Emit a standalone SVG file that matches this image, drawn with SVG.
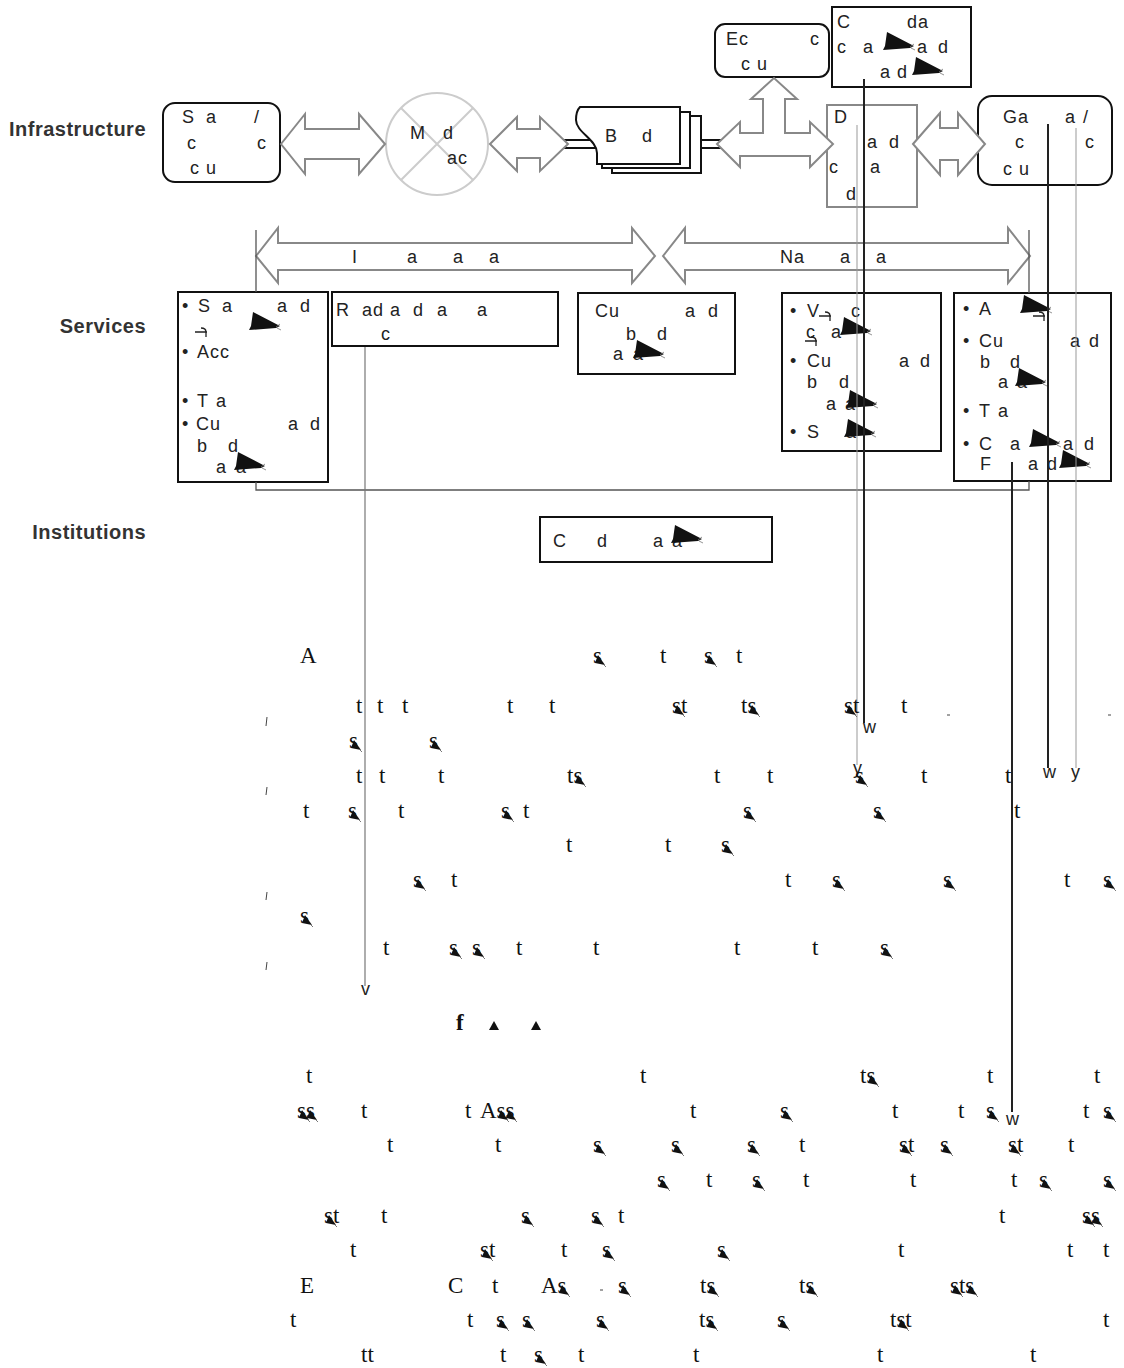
<svg xmlns="http://www.w3.org/2000/svg" xmlns:xlink="http://www.w3.org/1999/xlink" width="1124" height="1368" viewBox="0 0 1124 1368">
<style>
.t{font-family:"Liberation Sans",Arial,sans-serif;font-size:18px;letter-spacing:1px;fill:#222}
.lbl{font-family:"Liberation Sans",Arial,sans-serif;font-size:20px;letter-spacing:0.5px;font-weight:bold;fill:#333;text-anchor:end}
.b{font-family:"Liberation Serif","Times New Roman",serif;font-size:23px;fill:#111}
.bx{fill:#fff;stroke:#111;stroke-width:2}
.ga{fill:#fff;stroke:#888;stroke-width:2;stroke-linejoin:miter}
.dk{fill:none;stroke:#222;stroke-width:2}
.lt{fill:none;stroke:#999;stroke-width:1}
.md{fill:none;stroke:#555;stroke-width:1.3}
</style>
<defs>
<symbol id="wg" viewBox="0 0 32 18" width="32" height="18" overflow="visible"><polygon points="4,0 31,14 27,16 0,18 2,14" fill="#111"/><path d="M27,15 l4,-3 M28,16 l4,2" stroke="#777" stroke-width="0.8"/></symbol>
<symbol id="bl" viewBox="0 0 12 12" width="12" height="12" overflow="visible"><polygon points="1,9 4,1 11,11" fill="#111"/><path d="M10,11 l2,2" stroke="#555" stroke-width="0.8"/></symbol>
<symbol id="mk" viewBox="0 0 14 10" width="14" height="10" overflow="visible"><path d="M0,4 H12 M6,0 q5,0 5,4 v5" fill="none" stroke="#222" stroke-width="1.3"/></symbol>
</defs>
<rect width="1124" height="1368" fill="#fff"/>

<g id="labels">
<text class="lbl" x="146" y="136">Infrastructure</text>
<text class="lbl" x="146" y="333">Services</text>
<text class="lbl" x="146" y="539">Institutions</text>
</g>

<g id="n-sa">
<rect class="bx" x="163" y="103" width="117" height="79" rx="12"/>
<text class="t"><tspan x="182" y="123">S</tspan><tspan x="206" y="123">a</tspan><tspan x="254" y="123">/</tspan><tspan x="187" y="149">c</tspan><tspan x="257" y="149">c</tspan><tspan x="190" y="174">c u</tspan></text>
</g>

<g id="n-md">
<circle cx="437" cy="144" r="51" fill="#fff" stroke="#ccc" stroke-width="2"/>
<path d="M401,108 L473,180 M473,108 L401,180" stroke="#ccc" stroke-width="2"/>
<text class="t"><tspan x="410" y="139">M</tspan><tspan x="443" y="139">d</tspan><tspan x="447" y="164">ac</tspan></text>
</g>

<g id="n-bd">
<path d="M558,140 H600 M558,148 H600 M690,140 H722 M690,148 H722" stroke="#111" stroke-width="2"/>
<rect class="bx" x="612" y="116" width="89" height="57"/>
<rect class="bx" x="602" y="112" width="88" height="56"/>
<path class="bx" d="M580,107 H680 V164 H597 V153 C597,140 576,132 576,120 C576,113 578,109 580,107 Z"/>
<text class="t"><tspan x="605" y="142">B</tspan><tspan x="642" y="142">d</tspan></text>
</g>

<g id="n-ec">
<rect class="bx" x="715" y="24" width="114" height="53" rx="10"/>
<text class="t"><tspan x="726" y="45">Ec</tspan><tspan x="810" y="45">c</tspan><tspan x="741" y="70">c u</tspan></text>
</g>

<g id="n-cda">
<rect class="bx" x="832" y="7" width="139" height="80"/>
<text class="t"><tspan x="837" y="28">C</tspan><tspan x="907" y="28">da</tspan><tspan x="837" y="53">c</tspan><tspan x="863" y="53">a</tspan><tspan x="917" y="53">a</tspan><tspan x="938" y="53">d</tspan><tspan x="880" y="78">a</tspan><tspan x="897" y="78">d</tspan></text>
<use href="#wg" x="883" y="32"/>
<use href="#wg" x="912" y="57"/>
</g>

<g id="n-d">
<rect x="827" y="105" width="90" height="102" fill="#fff" stroke="#888" stroke-width="2"/>
<text class="t"><tspan x="834" y="123">D</tspan><tspan x="867" y="148">a</tspan><tspan x="889" y="148">d</tspan><tspan x="829" y="173">c</tspan><tspan x="870" y="173">a</tspan><tspan x="846" y="200">d</tspan></text>
</g>

<g id="n-ga">
<rect class="bx" x="978" y="96" width="134" height="89" rx="14"/>
<text class="t"><tspan x="1003" y="123">Ga</tspan><tspan x="1065" y="123">a</tspan><tspan x="1083" y="123">/</tspan><tspan x="1015" y="148">c</tspan><tspan x="1085" y="148">c</tspan><tspan x="1003" y="175">c u</tspan></text>
</g>

<g id="n-left">
<rect class="bx" x="178" y="292" width="150" height="190"/>
<text class="t"><tspan x="182" y="312">•</tspan><tspan x="198" y="312">S</tspan><tspan x="222" y="312">a</tspan><tspan x="277" y="312">a</tspan><tspan x="300" y="312">d</tspan>
<tspan x="182" y="358">•</tspan><tspan x="197" y="358">Acc</tspan>
<tspan x="182" y="407">•</tspan><tspan x="197" y="407">T</tspan><tspan x="216" y="407">a</tspan>
<tspan x="182" y="430">•</tspan><tspan x="196" y="430">Cu</tspan><tspan x="288" y="430">a</tspan><tspan x="310" y="430">d</tspan>
<tspan x="197" y="452">b</tspan><tspan x="228" y="452">d</tspan><tspan x="216" y="473">a</tspan><tspan x="236" y="473">a</tspan></text>
<use href="#wg" x="249" y="312"/>
<use href="#mk" x="195" y="328"/>
<use href="#wg" x="234" y="452"/>
</g>

<g id="n-r">
<rect class="bx" x="332" y="292" width="226" height="54"/>
<text class="t"><tspan x="336" y="316">R</tspan><tspan x="362" y="316">ad</tspan><tspan x="390" y="316">a</tspan><tspan x="413" y="316">d</tspan><tspan x="437" y="316">a</tspan><tspan x="477" y="316">a</tspan><tspan x="381" y="340">c</tspan></text>
</g>

<g id="n-cu">
<rect class="bx" x="578" y="293" width="157" height="81"/>
<text class="t"><tspan x="595" y="317">Cu</tspan><tspan x="685" y="317">a</tspan><tspan x="708" y="317">d</tspan><tspan x="626" y="340">b</tspan><tspan x="657" y="340">d</tspan><tspan x="613" y="360">a</tspan><tspan x="633" y="360">a</tspan></text>
<use href="#wg" x="633" y="340"/>
</g>

<g id="n-v">
<rect class="bx" x="782" y="293" width="159" height="158"/>
<text class="t"><tspan x="790" y="317">•</tspan><tspan x="807" y="317">V</tspan><tspan x="851" y="317">c</tspan>
<tspan x="806" y="338">c</tspan><tspan x="831" y="338">a</tspan>
<tspan x="790" y="367">•</tspan><tspan x="807" y="367">Cu</tspan><tspan x="899" y="367">a</tspan><tspan x="920" y="367">d</tspan>
<tspan x="807" y="388">b</tspan><tspan x="839" y="388">d</tspan><tspan x="826" y="410">a</tspan><tspan x="845" y="410">a</tspan>
<tspan x="790" y="438">•</tspan><tspan x="807" y="438">S</tspan><tspan x="846" y="438">a</tspan></text>
<use href="#mk" x="819" y="312"/>
<use href="#mk" x="805" y="337"/>
<use href="#wg" x="840" y="317"/>
<use href="#wg" x="846" y="390"/>
<use href="#wg" x="844" y="419"/>
</g>

<g id="n-right">
<rect class="bx" x="954" y="293" width="157" height="188"/>
<text class="t"><tspan x="963" y="315">•</tspan><tspan x="979" y="315">A</tspan>
<tspan x="963" y="347">•</tspan><tspan x="979" y="347">Cu</tspan><tspan x="1070" y="347">a</tspan><tspan x="1089" y="347">d</tspan>
<tspan x="980" y="368">b</tspan><tspan x="1010" y="368">d</tspan><tspan x="998" y="388">a</tspan><tspan x="1017" y="388">a</tspan>
<tspan x="963" y="417">•</tspan><tspan x="979" y="417">T</tspan><tspan x="998" y="417">a</tspan>
<tspan x="963" y="450">•</tspan><tspan x="979" y="450">C</tspan><tspan x="1010" y="450">a</tspan><tspan x="1063" y="450">a</tspan><tspan x="1084" y="450">d</tspan>
<tspan x="980" y="470">F</tspan><tspan x="1028" y="470">a</tspan><tspan x="1047" y="470">d</tspan></text>
<use href="#wg" x="1020" y="295"/>
<use href="#mk" x="1033" y="312"/>
<use href="#wg" x="1015" y="368"/>
<use href="#wg" x="1029" y="429"/>
<use href="#wg" x="1059" y="450"/>
</g>

<g id="n-inst">
<rect class="bx" x="540" y="517" width="232" height="45"/>
<text class="t"><tspan x="553" y="547">C</tspan><tspan x="597" y="547">d</tspan><tspan x="653" y="547">a</tspan><tspan x="672" y="547">a</tspan></text>
<use href="#wg" x="671" y="525"/>
</g>

<g id="connectors">
<polygon class="ga" points="281,144 305,114 305,129 359,129 359,114 385,144 359,174 359,159 305,159 305,174"/>
<polygon class="ga" points="490,144 517,117 517,129 540,129 540,117 568,144 540,171 540,158 517,158 517,171"/>
<polygon class="ga" points="717,144 740,122 740,133 763,133 763,99 751,99 774,78 797,99 785,99 785,133 810,133 810,122 833,144 810,167 810,156 740,156 740,167"/>
<polygon class="ga" points="913,144 940,113 940,128 958,128 958,113 985,144 958,175 958,160 940,160 940,175"/>
<polygon class="ga" points="256,256 278,228 278,243 632,243 632,228 655,256 632,283 632,270 278,270 278,283"/>
<polygon class="ga" points="663,256 685,228 685,243 1008,243 1008,228 1030,256 1008,283 1008,270 685,270 685,283"/>
<text class="t"><tspan x="352" y="263">I</tspan><tspan x="407" y="263">a</tspan><tspan x="453" y="263">a</tspan><tspan x="489" y="263">a</tspan><tspan x="780" y="263">Na</tspan><tspan x="840" y="263">a</tspan><tspan x="876" y="263">a</tspan></text>
<path class="md" d="M256,230 V292 M1029,230 V293 M256,482 V490 H1029 V481"/>
<path class="lt" d="M857,125 V765 M1076,128 V768"/>
<path stroke="#777" stroke-width="1.2" fill="none" d="M365,347 V986"/>
<path class="dk" d="M864,79 V723 M1048,124 V768 M1012,462 V1112"/>
<text class="t"><tspan x="863" y="733">w</tspan><tspan x="853" y="774">y</tspan><tspan x="1043" y="778">w</tspan><tspan x="1071" y="778">y</tspan><tspan x="1006" y="1125">w</tspan><tspan x="361" y="995">v</tspan></text>
</g>

<g id="body-text">
<path d="M267,717 l-1,9 M267,787 l-1,8 M267,892 l-1,8 M267,962 l-1,8 M947,715 h3 M1108,715 h3 M600,1290 h3" stroke="#444" stroke-width="1"/>
<text class="b">
<tspan x="300" y="663">A</tspan><tspan x="593" y="663">s</tspan><tspan x="660" y="663">t</tspan><tspan x="704" y="663">s</tspan><tspan x="736" y="663">t</tspan>
<tspan x="356" y="713">t</tspan><tspan x="377" y="713">t</tspan><tspan x="402" y="713">t</tspan><tspan x="507" y="713">t</tspan><tspan x="549" y="713">t</tspan><tspan x="672" y="713">st</tspan><tspan x="741" y="713">ts</tspan><tspan x="844" y="713">st</tspan><tspan x="901" y="713">t</tspan>
<tspan x="349" y="748">s</tspan><tspan x="429" y="748">s</tspan>
<tspan x="356" y="783">t</tspan><tspan x="379" y="783">t</tspan><tspan x="438" y="783">t</tspan><tspan x="567" y="783">ts</tspan><tspan x="714" y="783">t</tspan><tspan x="767" y="783">t</tspan><tspan x="855" y="783">s</tspan><tspan x="921" y="783">t</tspan><tspan x="1005" y="783">t</tspan>
<tspan x="303" y="818">t</tspan><tspan x="348" y="818">s</tspan><tspan x="398" y="818">t</tspan><tspan x="501" y="818">s</tspan><tspan x="523" y="818">t</tspan><tspan x="743" y="818">s</tspan><tspan x="873" y="818">s</tspan><tspan x="1014" y="818">t</tspan>
<tspan x="566" y="852">t</tspan><tspan x="665" y="852">t</tspan><tspan x="721" y="852">s</tspan>
<tspan x="413" y="887">s</tspan><tspan x="451" y="887">t</tspan><tspan x="785" y="887">t</tspan><tspan x="832" y="887">s</tspan><tspan x="943" y="887">s</tspan><tspan x="1064" y="887">t</tspan><tspan x="1103" y="887">s</tspan>
<tspan x="300" y="923">s</tspan>
<tspan x="383" y="955">t</tspan><tspan x="449" y="955">s</tspan><tspan x="472" y="955">s</tspan><tspan x="516" y="955">t</tspan><tspan x="593" y="955">t</tspan><tspan x="734" y="955">t</tspan><tspan x="812" y="955">t</tspan><tspan x="880" y="955">s</tspan>
<tspan x="306" y="1083">t</tspan><tspan x="640" y="1083">t</tspan><tspan x="860" y="1083">ts</tspan><tspan x="987" y="1083">t</tspan><tspan x="1094" y="1083">t</tspan>
<tspan x="297" y="1118">ss</tspan><tspan x="361" y="1118">t</tspan><tspan x="465" y="1118">t</tspan><tspan x="480" y="1118">Ass</tspan><tspan x="690" y="1118">t</tspan><tspan x="780" y="1118">s</tspan><tspan x="892" y="1118">t</tspan><tspan x="958" y="1118">t</tspan><tspan x="986" y="1118">s</tspan><tspan x="1083" y="1118">t</tspan><tspan x="1103" y="1118">s</tspan>
<tspan x="387" y="1152">t</tspan><tspan x="495" y="1152">t</tspan><tspan x="593" y="1152">s</tspan><tspan x="671" y="1152">s</tspan><tspan x="747" y="1152">s</tspan><tspan x="799" y="1152">t</tspan><tspan x="899" y="1152">st</tspan><tspan x="940" y="1152">s</tspan><tspan x="1008" y="1152">st</tspan><tspan x="1068" y="1152">t</tspan>
<tspan x="657" y="1187">s</tspan><tspan x="706" y="1187">t</tspan><tspan x="752" y="1187">s</tspan><tspan x="803" y="1187">t</tspan><tspan x="910" y="1187">t</tspan><tspan x="1011" y="1187">t</tspan><tspan x="1039" y="1187">s</tspan><tspan x="1103" y="1187">s</tspan>
<tspan x="324" y="1223">st</tspan><tspan x="381" y="1223">t</tspan><tspan x="521" y="1223">s</tspan><tspan x="591" y="1223">s</tspan><tspan x="618" y="1223">t</tspan><tspan x="999" y="1223">t</tspan><tspan x="1082" y="1223">ss</tspan>
<tspan x="350" y="1257">t</tspan><tspan x="480" y="1257">st</tspan><tspan x="561" y="1257">t</tspan><tspan x="602" y="1257">s</tspan><tspan x="717" y="1257">s</tspan><tspan x="898" y="1257">t</tspan><tspan x="1067" y="1257">t</tspan><tspan x="1103" y="1257">t</tspan>
<tspan x="300" y="1293">E</tspan><tspan x="448" y="1293">C</tspan><tspan x="492" y="1293">t</tspan><tspan x="541" y="1293">As</tspan><tspan x="618" y="1293">s</tspan><tspan x="700" y="1293">ts</tspan><tspan x="799" y="1293">ts</tspan><tspan x="950" y="1293">sts</tspan>
<tspan x="290" y="1327">t</tspan><tspan x="467" y="1327">t</tspan><tspan x="496" y="1327">s</tspan><tspan x="522" y="1327">s</tspan><tspan x="596" y="1327">s</tspan><tspan x="699" y="1327">ts</tspan><tspan x="777" y="1327">s</tspan><tspan x="890" y="1327">tst</tspan><tspan x="1103" y="1327">t</tspan>
<tspan x="361" y="1362">tt</tspan><tspan x="500" y="1362">t</tspan><tspan x="534" y="1362">s</tspan><tspan x="578" y="1362">t</tspan><tspan x="693" y="1362">t</tspan><tspan x="877" y="1362">t</tspan><tspan x="1030" y="1362">t</tspan>
</text>
<text class="b" x="456" y="1030" font-weight="bold">f</text>
<polygon points="489,1030 494,1021 499,1030" fill="#111"/>
<polygon points="531,1030 536,1021 541,1030" fill="#111"/>
<g id="blobs">
<use href="#bl" x="594" y="654"/><use href="#bl" x="705" y="654"/>
<use href="#bl" x="673" y="704"/><use href="#bl" x="748" y="704"/><use href="#bl" x="845" y="704"/>
<use href="#bl" x="350" y="739"/><use href="#bl" x="430" y="739"/>
<use href="#bl" x="574" y="774"/><use href="#bl" x="856" y="774"/>
<use href="#bl" x="349" y="809"/><use href="#bl" x="502" y="809"/><use href="#bl" x="744" y="809"/><use href="#bl" x="874" y="809"/>
<use href="#bl" x="722" y="843"/>
<use href="#bl" x="414" y="878"/><use href="#bl" x="833" y="878"/><use href="#bl" x="944" y="878"/><use href="#bl" x="1104" y="878"/>
<use href="#bl" x="301" y="914"/>
<use href="#bl" x="450" y="946"/><use href="#bl" x="473" y="946"/><use href="#bl" x="881" y="946"/>
<use href="#bl" x="867" y="1074"/>
<use href="#bl" x="298" y="1109"/><use href="#bl" x="306" y="1109"/><use href="#bl" x="497" y="1109"/><use href="#bl" x="505" y="1109"/><use href="#bl" x="781" y="1109"/><use href="#bl" x="987" y="1109"/><use href="#bl" x="1104" y="1109"/>
<use href="#bl" x="594" y="1143"/><use href="#bl" x="672" y="1143"/><use href="#bl" x="748" y="1143"/><use href="#bl" x="900" y="1143"/><use href="#bl" x="941" y="1143"/><use href="#bl" x="1009" y="1143"/>
<use href="#bl" x="658" y="1178"/><use href="#bl" x="753" y="1178"/><use href="#bl" x="1040" y="1178"/><use href="#bl" x="1104" y="1178"/>
<use href="#bl" x="325" y="1214"/><use href="#bl" x="522" y="1214"/><use href="#bl" x="592" y="1214"/><use href="#bl" x="1083" y="1214"/><use href="#bl" x="1091" y="1214"/>
<use href="#bl" x="481" y="1248"/><use href="#bl" x="603" y="1248"/><use href="#bl" x="718" y="1248"/>
<use href="#bl" x="558" y="1284"/><use href="#bl" x="619" y="1284"/><use href="#bl" x="707" y="1284"/><use href="#bl" x="806" y="1284"/><use href="#bl" x="951" y="1284"/><use href="#bl" x="966" y="1284"/>
<use href="#bl" x="497" y="1318"/><use href="#bl" x="523" y="1318"/><use href="#bl" x="597" y="1318"/><use href="#bl" x="706" y="1318"/><use href="#bl" x="778" y="1318"/><use href="#bl" x="897" y="1318"/>
<use href="#bl" x="535" y="1353"/>
</g>
</g>
</svg>
